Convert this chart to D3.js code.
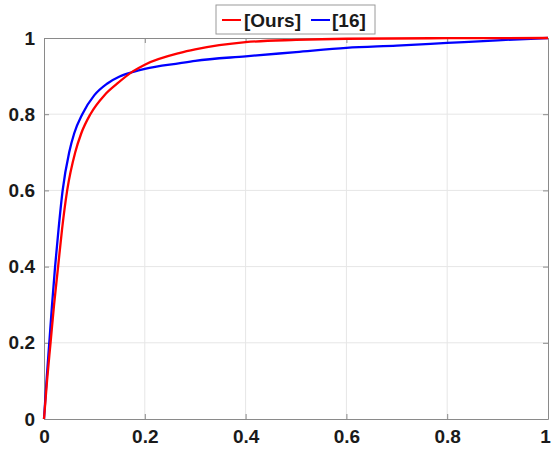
<!DOCTYPE html>
<html>
<head>
<meta charset="UTF-8">
<script src="https://d3js.org/d3.v7.min.js"></script>
<style>
  body { margin: 0; background: #fff; font-family: Arial, "Liberation Sans", sans-serif; }
  .tick text { font-weight: bold; font-size: 19px; fill: #1a1a1a; }
</style>
</head>
<body>
<div id="chart"></div>
<script>
  const tickValues = [0, 0.2, 0.4, 0.6, 0.8, 1];
  const seriesNames = ["[Ours]", "[16]"];
  const seriesColors = ["#ff0000", "#0000ff"];

  const oursX = [0, 0.006, 0.013, 0.02, 0.028, 0.036, 0.046, 0.062, 0.074, 0.092, 0.12, 0.145, 0.177, 0.2, 0.27, 0.3, 0.4, 0.5, 0.6, 0.8, 1];
  const oursY = [0, 0.1, 0.2, 0.3, 0.4, 0.5, 0.6, 0.7, 0.75, 0.8, 0.85, 0.88, 0.913, 0.93, 0.961, 0.97, 0.989, 0.995, 0.998, 0.9995, 1];

  const refX = [0, 0.005, 0.0105, 0.016, 0.022, 0.029, 0.037, 0.05, 0.06, 0.076, 0.1, 0.125, 0.15, 0.177, 0.2, 0.27, 0.3, 0.4, 0.5, 0.6, 0.7, 0.8, 0.9, 1];
  const refY = [0, 0.1, 0.2, 0.3, 0.4, 0.5, 0.6, 0.7, 0.75, 0.8, 0.85, 0.88, 0.899, 0.911, 0.919, 0.934, 0.94, 0.952, 0.963, 0.974, 0.98, 0.987, 0.994, 1];

  const margin = {top: 38, right: 4, bottom: 33, left: 44},
        width = 552 - margin.left - margin.right,
        height = 452 - margin.top - margin.bottom;

  const svg = d3.select("#chart").append("svg")
      .attr("width", 552).attr("height", 452)
    .append("g")
      .attr("transform", `translate(${margin.left},${margin.top})`);

  const x = d3.scaleLinear().domain([0, 1]).range([0, width]);
  const y = d3.scaleLinear().domain([0, 1]).range([height, 0]);

  // grid
  svg.append("g").selectAll("line").data(tickValues.slice(1, -1)).enter().append("line")
     .attr("x1", d => x(d)).attr("x2", d => x(d)).attr("y1", 0).attr("y2", height)
     .attr("stroke", "#e6e6e6").attr("stroke-width", 1);
  svg.append("g").selectAll("line").data(tickValues.slice(1, -1)).enter().append("line")
     .attr("y1", d => y(d)).attr("y2", d => y(d)).attr("x1", 0).attr("x2", width)
     .attr("stroke", "#e6e6e6").attr("stroke-width", 1);

  const fmt = d => d === 0 || d === 1 ? String(d) : d3.format(".1f")(d);

  const xAxis = svg.append("g").attr("transform", `translate(0,${height})`)
     .call(d3.axisBottom(x).tickValues(tickValues).tickFormat(fmt).tickSizeInner(-5).tickSizeOuter(0).tickPadding(11));
  // keep the last label inside the window
  xAxis.selectAll(".tick text").filter(d => d === 1).attr("dx", -3);
  svg.append("g")
     .call(d3.axisLeft(y).tickValues(tickValues).tickFormat(fmt).tickSizeInner(-5).tickSizeOuter(0).tickPadding(9));
  svg.append("g").call(d3.axisTop(x).tickValues(tickValues).tickFormat("").tickSizeInner(-5).tickSizeOuter(0));
  svg.append("g").attr("transform", `translate(${width},0)`)
     .call(d3.axisRight(y).tickValues(tickValues).tickFormat("").tickSizeInner(-5).tickSizeOuter(0));
  svg.selectAll(".domain, .tick line").attr("stroke", "#8a8a8a");

  const line = d3.line().x(d => x(d[0])).y(d => y(d[1])).curve(d3.curveMonotoneX);
  const series = [d3.zip(oursX, oursY), d3.zip(refX, refY)];

  // draw [16] first, then ours
  [1, 0].forEach(i => {
    svg.append("path").datum(series[i])
       .attr("fill", "none").attr("stroke", seriesColors[i]).attr("stroke-width", 2.3)
       .attr("d", line);
  });

  // legend
  const lg = svg.append("g").attr("transform", `translate(${216 - margin.left},${5 - margin.top})`);
  lg.append("rect").attr("width", 159).attr("height", 29)
    .attr("fill", "#fff").attr("stroke", "#9a9a9a");
  const entries = [{x0: 6, tx: 28}, {x0: 95, tx: 116}];
  entries.forEach((e, i) => {
    lg.append("line").attr("x1", e.x0).attr("x2", e.x0 + 19).attr("y1", 15).attr("y2", 15)
      .attr("stroke", seriesColors[i]).attr("stroke-width", 2);
    lg.append("text").attr("x", e.tx).attr("y", 22)
      .style("font-size", "19px").style("font-weight", "bold").style("fill", "#1a1a1a")
      .text(seriesNames[i]);
  });
</script>
</body>
</html>
